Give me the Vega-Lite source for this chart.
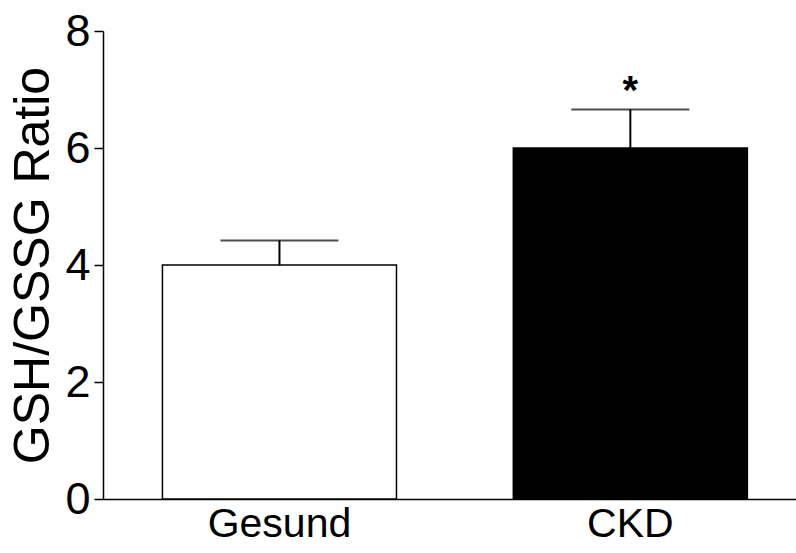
{
  "$schema": "https://vega.github.io/schema/vega-lite/v6.json",
  "width": 693,
  "height": 468,
  "autosize": {"type": "none"},
  "padding": {"left": 103, "top": 31, "right": 0, "bottom": 54},
  "background": "white",
  "config": {
    "view": {"stroke": null},
    "font": "Liberation Sans"
  },
  "data": {
    "values": [
      {"group": "Gesund", "mean": 4.0, "upper": 4.42, "sig": ""},
      {"group": "CKD", "mean": 6.0, "upper": 6.66, "sig": "*"}
    ]
  },
  "encoding": {
    "x": {
      "field": "group",
      "type": "nominal",
      "sort": ["Gesund", "CKD"],
      "scale": {"paddingInner": 0.333, "paddingOuter": 0.154, "align": 0.55},
      "axis": {
        "title": null,
        "labelAngle": 0,
        "labelFontSize": 41,
        "labelColor": "black",
        "labelPadding": 5,
        "ticks": false,
        "domainColor": "black",
        "domainWidth": 1.5,
        "labelFont": "Liberation Sans"
      }
    }
  },
  "layer": [
    {
      "mark": {"type": "bar", "stroke": "black", "strokeWidth": 1.5},
      "encoding": {
        "y": {
          "field": "mean",
          "type": "quantitative",
          "scale": {"domain": [0, 8]},
          "axis": {
            "title": "GSH/GSSG Ratio",
            "titleFontSize": 50,
            "titleFontWeight": "normal",
            "titleColor": "black",
            "titleFont": "Liberation Sans",
            "titlePadding": 6,
            "values": [0, 2, 4, 6, 8],
            "format": "d",
            "labelFontSize": 45,
            "labelColor": "black",
            "labelFont": "Liberation Sans",
            "labelPadding": 4,
            "tickSize": 9,
            "tickColor": "black",
            "tickWidth": 1.5,
            "domainColor": "black",
            "domainWidth": 1.5,
            "grid": false
          }
        },
        "color": {
          "field": "group",
          "type": "nominal",
          "scale": {"domain": ["Gesund", "CKD"], "range": ["white", "black"]},
          "legend": null
        }
      }
    },
    {
      "mark": {"type": "rule", "color": "black", "strokeWidth": 2},
      "encoding": {
        "y": {"field": "mean", "type": "quantitative"},
        "y2": {"field": "upper"}
      }
    },
    {
      "mark": {"type": "tick", "color": "black", "size": 118, "thickness": 2},
      "encoding": {
        "y": {"field": "upper", "type": "quantitative"}
      }
    },
    {
      "mark": {"type": "text", "fontSize": 40, "fontWeight": "bold", "dy": -17, "baseline": "middle", "color": "black", "font": "Liberation Sans"},
      "encoding": {
        "y": {"field": "upper", "type": "quantitative"},
        "text": {"field": "sig"}
      }
    }
  ]
}
